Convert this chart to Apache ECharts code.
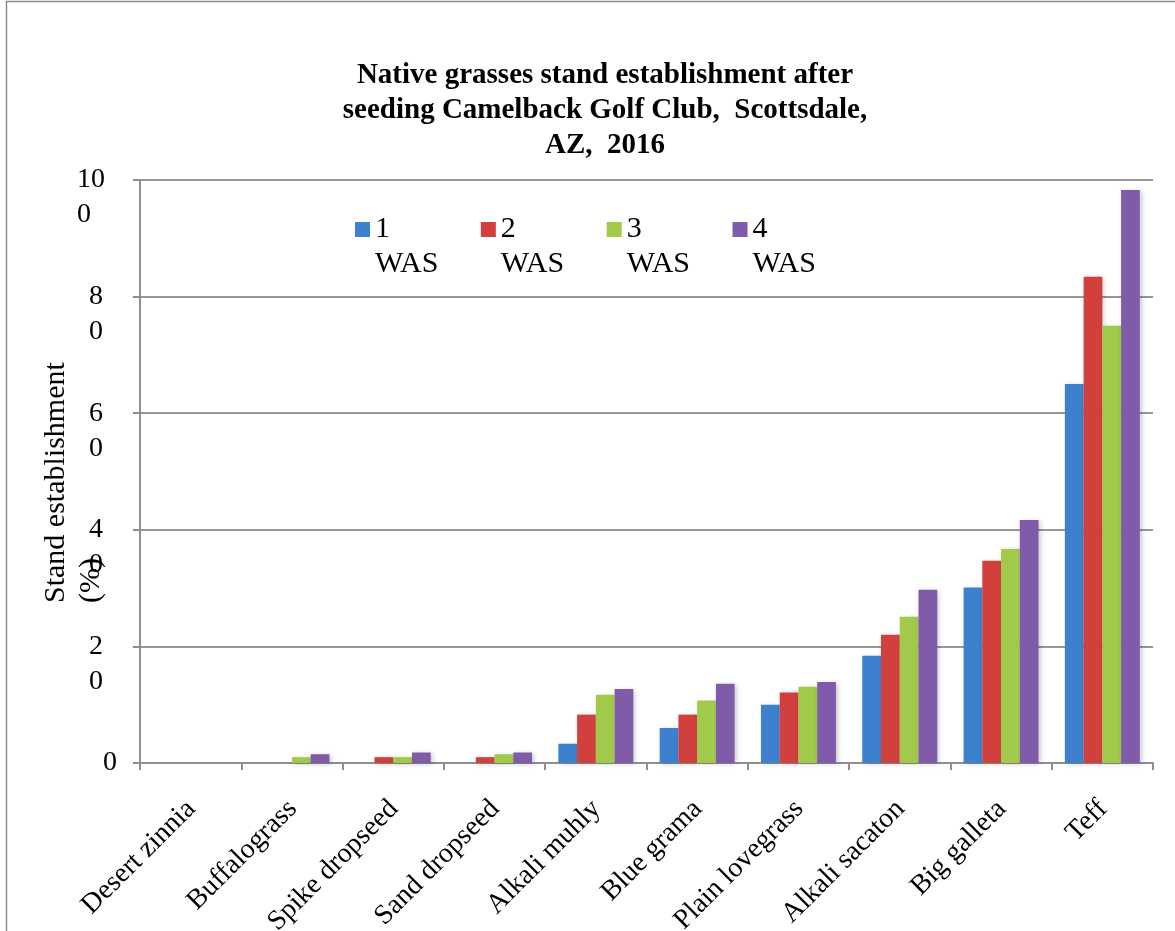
<!DOCTYPE html>
<html>
<head>
<meta charset="utf-8">
<script src="https://cdn.jsdelivr.net/npm/echarts@6/dist/echarts.min.js"></script>
<style>
  html, body { margin: 0; padding: 0; background: #fff; }
  #chart { width: 1175px; height: 931px; }
</style>
</head>
<body>
<div id="chart"></div>
<script>
// Native grass species, ordered by establishment
const categories = ['Desert zinnia', 'Buffalograss', 'Spike dropseed', 'Sand dropseed', 'Alkali muhly',
  'Blue grama', 'Plain lovegrass', 'Alkali sacaton', 'Big galleta', 'Teff'];

// Stand establishment (%) at 1–4 weeks after seeding
const was1 = [0, 0, 0, 0, 3.3, 6.0, 10.0, 18.4, 30.1, 65.0];
const was2 = [0, 0, 1.0, 1.0, 8.3, 8.3, 12.1, 22.0, 34.7, 83.4];
const was3 = [0, 1.0, 1.0, 1.5, 11.7, 10.7, 13.1, 25.1, 36.7, 75.0];
const was4 = [0, 1.5, 1.8, 1.8, 12.7, 13.6, 13.9, 29.7, 41.7, 98.3];

const seriesNames = ['1 WAS', '2 WAS', '3 WAS', '4 WAS'];
const seriesColors = ['#3d80ce', '#d2403d', '#a1ca4a', '#7f5baa'];
const yTicks = [0, 20, 40, 60, 80, 100];

const serif = '"Liberation Serif", "Times New Roman", serif';
const axisGrey = '#8f8f8f';

const chart = echarts.init(document.getElementById('chart'), null, { renderer: 'canvas' });

// y labels wrap onto two lines ("10" / "0"); a blank first line keeps the
// upper line centred on its tick
function yLabel(v) {
  const s = String(v);
  if (s.length === 1) return '{z|' + s + '}';
  const head = s.slice(0, -1), tail = s.slice(-1);
  const st = head.length > 1 ? 'w2' : 'w1';
  return '{' + st + '| }\n{' + st + '|' + head + '}\n{' + st + '|' + tail + '}';
}

const option = {
  backgroundColor: '#ffffff',
  animation: false,
  title: {
    text: 'Native grasses stand establishment after\nseeding Camelback Golf Club,  Scottsdale,\nAZ,  2016',
    left: 605,
    top: 58,
    textAlign: 'center',
    padding: 0,
    textStyle: {
      fontFamily: serif,
      fontWeight: 'bold',
      fontSize: 29,
      lineHeight: 35,
      color: '#000'
    }
  },
  legend: {
    data: seriesNames,
    left: 355,
    top: 177,
    padding: 0,
    icon: 'rect',
    itemWidth: 15,
    itemHeight: 15,
    itemGap: 42.5,
    // blank line above keeps the number beside the swatch, "WAS" below it
    formatter: name => ' \n' + name.replace(' ', '\n'),
    textStyle: {
      fontFamily: serif,
      fontSize: 30,
      lineHeight: 35,
      color: '#000'
    }
  },
  grid: {
    left: 140,
    right: 22,
    top: 180,
    bottom: 168,
    containLabel: false,
    outerBoundsMode: 'none'
  },
  xAxis: {
    type: 'category',
    data: categories,
    axisLine: { show: true, lineStyle: { color: axisGrey, width: 2 } },
    axisTick: { show: true, length: 7, lineStyle: { color: axisGrey, width: 2 } },
    axisLabel: {
      interval: 0,
      rotate: 45,
      margin: 24,
      verticalAlign: 'top',
      lineHeight: 26,
      padding: [0, 12, 0, 0],
      fontFamily: serif,
      fontSize: 28,
      color: '#000'
    },
    splitLine: { show: false }
  },
  yAxis: {
    type: 'value',
    min: 0,
    max: 100,
    interval: 20,
    name: '{a|Stand establishment}\n{a|(%)}',
    nameLocation: 'middle',
    nameGap: 31,
    nameMoveOverlap: false,
    nameTextStyle: {
      fontFamily: serif,
      fontSize: 30,
      color: '#000',
      rich: {
        a: { fontFamily: serif, fontSize: 30, lineHeight: 35, width: 263, align: 'left', color: '#000' }
      }
    },
    axisLine: { show: true, lineStyle: { color: axisGrey, width: 2 } },
    axisTick: { show: true, length: 7, lineStyle: { color: axisGrey, width: 2 } },
    splitLine: { show: true, lineStyle: { color: '#979797', width: 2 } },
    axisLabel: {
      margin: 23,
      formatter: yLabel,
      color: '#000',
      fontFamily: serif,
      fontSize: 28,
      rich: {
        z: { fontFamily: serif, fontSize: 28, lineHeight: 35, color: '#000' },
        w1: { fontFamily: serif, fontSize: 28, lineHeight: 35, width: 14, align: 'left', padding: [0, 14, 0, 0], color: '#000' },
        w2: { fontFamily: serif, fontSize: 28, lineHeight: 35, width: 28, align: 'left', padding: [0, 12, 0, 0], color: '#000' }
      }
    }
  },
  graphic: [{
    type: 'rect',
    silent: true,
    shape: { x: 6.5, y: 1.5, width: 1300, height: 1100 },
    style: { fill: 'none', stroke: '#8c8c8c', lineWidth: 1.5 }
  }],
  series: [was1, was2, was3, was4].map((vals, i) => ({
    name: seriesNames[i],
    type: 'bar',
    data: vals,
    barGap: '0%',
    barCategoryGap: '26%',
    itemStyle: {
      color: seriesColors[i],
      shadowColor: 'rgba(0,0,0,0.22)',
      shadowBlur: 5,
      shadowOffsetX: 2,
      shadowOffsetY: 1
    }
  }))
};

chart.setOption(option);
</script>
</body>
</html>
